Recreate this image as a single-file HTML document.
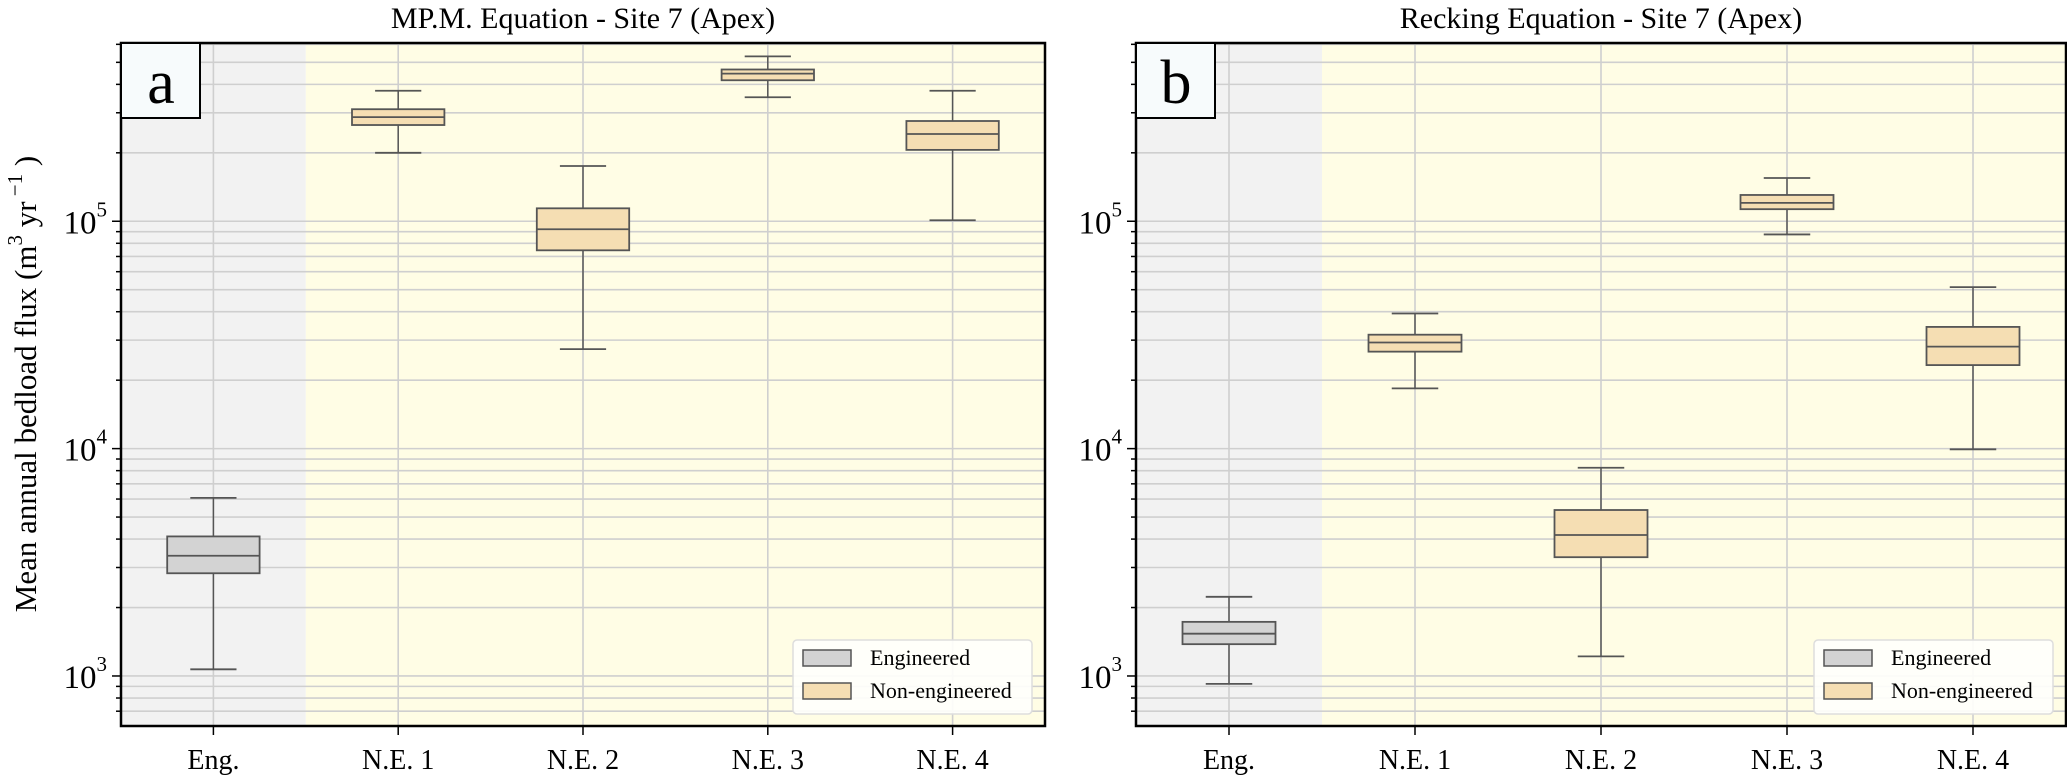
<!DOCTYPE html>
<html><head><meta charset="utf-8"><style>
html,body{margin:0;padding:0;background:#fff;width:2067px;height:777px;overflow:hidden}
svg{display:block;font-family:"Liberation Serif",serif}
</style></head><body>
<svg id="chart" width="2067" height="777" xmlns="http://www.w3.org/2000/svg"></svg>
<script>
const categories = ["Eng.","N.E. 1","N.E. 2","N.E. 3","N.E. 4"];
const panelTitles = ["MP.M. Equation - Site 7 (Apex)","Recking Equation - Site 7 (Apex)"];
const panelLetters = ["a","b"];
// [whiskerLow, Q1, median, Q3, whiskerHigh]
const mpmStats = [
  [1070, 2830, 3380, 4110, 6070],
  [200000, 265000, 287000, 311000, 375000],
  [27400, 74500, 92200, 114000, 175000],
  [351000, 417000, 446000, 465000, 531000],
  [101000, 206000, 242000, 276000, 375000]
];
const reckingStats = [
  [923, 1380, 1535, 1730, 2230],
  [18400, 26700, 29300, 31700, 39300],
  [1220, 3330, 4170, 5370, 8240],
  [87500, 113000, 120500, 130500, 155000],
  [9930, 23300, 28100, 34300, 51300]
];
const yTickLabels = ["3","4","5"];
const legendLabels = ["Engineered","Non-engineered"];

const NS="http://www.w3.org/2000/svg";
const svg=document.getElementById('chart');
function mk(tag,attrs,parent){const e=document.createElementNS(NS,tag);for(const k in attrs)e.setAttribute(k,attrs[k]);(parent||svg).appendChild(e);return e;}

const plotTop=43, plotBottom=726, logMin=2.78, logMax=5.784;
const panels=[{x0:121,x1:1045,stats:mpmStats},{x0:1136,x1:2066,stats:reckingStats}];
function yScale(v){const l=Math.log10(v);return plotBottom-(l-logMin)/(logMax-logMin)*(plotBottom-plotTop);}

panels.forEach((p,pi)=>{
  const g=mk('g',{});
  
  
  const w=p.x1-p.x0;
  const xc=i=>p.x0+(i+0.5)*w/5;
  const xd=d=>p.x0+(d-0.5)*w/5;
  const bgE=mk('rect',{x:p.x0,y:plotTop,width:xd(1.5)-p.x0,height:plotBottom-plotTop,fill:'#f2f2f2'},g);
  
  
  const bgN=mk('rect',{x:xd(1.5),y:plotTop,width:p.x1-xd(1.5),height:plotBottom-plotTop,fill:'#fffde5'},g);
  
  
  for(let k=2;k<=6;k++){for(let m=1;m<=9;m++){const v=m*Math.pow(10,k);const y=yScale(v);if(y<plotTop||y>plotBottom)continue;
    const gl=mk('line',{x1:p.x0,x2:p.x1,y1:y,y2:y,stroke:'#cfcfcf','stroke-width':1.6},g);
    
    
    const tk=mk('line',{x1:p.x0-(m===1?9:5),x2:p.x0,y1:y,y2:y,stroke:'#000','stroke-width':1.5},g);
    
    
  }}
  categories.forEach((c,i)=>{const x=xc(i);
    const vl=mk('line',{x1:x,x2:x,y1:plotTop,y2:plotBottom,stroke:'#cfcfcf','stroke-width':1.6},g);
    
    
    const tk=mk('line',{x1:x,x2:x,y1:plotBottom,y2:plotBottom+9,stroke:'#000','stroke-width':1.5},g);
    
    
    const t=mk('text',{x:x,y:769,'text-anchor':'middle','font-size':28,fill:'#000'},g);
    t.textContent=c;
    
    
  });
  yTickLabels.forEach(e=>{const y=yScale(Math.pow(10,+e));
    const t=mk('text',{x:p.x0-14,y:y+12,'text-anchor':'end','font-size':33,fill:'#000'},g);
    t.textContent='10';
    const s=mk('tspan',{'font-size':21,dy:-17},t);s.textContent=e;
    
    
  });
  const bw=w/5*0.5;
  p.stats.forEach((s,i)=>{const x=xc(i);
    const bg=mk('g',{},g);
    
    
    const fill=i===0?'#d3d3d3':'#f5deb3';
    mk('line',{x1:x,x2:x,y1:yScale(s[0]),y2:yScale(s[1]),stroke:'#555','stroke-width':1.5},bg);
    mk('line',{x1:x,x2:x,y1:yScale(s[3]),y2:yScale(s[4]),stroke:'#555','stroke-width':1.5},bg);
    mk('line',{x1:x-bw/4,x2:x+bw/4,y1:yScale(s[0]),y2:yScale(s[0]),stroke:'#555','stroke-width':1.8},bg);
    mk('line',{x1:x-bw/4,x2:x+bw/4,y1:yScale(s[4]),y2:yScale(s[4]),stroke:'#555','stroke-width':1.8},bg);
    mk('rect',{x:x-bw/2,y:yScale(s[3]),width:bw,height:yScale(s[1])-yScale(s[3]),fill:fill,stroke:'#555','stroke-width':1.8},bg);
    mk('line',{x1:x-bw/2,x2:x+bw/2,y1:yScale(s[2]),y2:yScale(s[2]),stroke:'#555','stroke-width':1.8},bg);
  });
  const fr=mk('rect',{x:p.x0,y:plotTop,width:w,height:plotBottom-plotTop,fill:'none',stroke:'#000','stroke-width':2.5},g);
  
  
  const lb=mk('g',{},g);
  
  
  mk('rect',{x:p.x0,y:plotTop,width:79,height:75,fill:'#f7fbfc',stroke:'#000','stroke-width':2},lb);
  const lt=mk('text',{x:p.x0+40,y:plotTop+60,'text-anchor':'middle','font-size':62,fill:'#000'},lb);
  lt.textContent=panelLetters[pi];
  const tt=mk('text',{x:(p.x0+p.x1)/2,y:28,'text-anchor':'middle','font-size':30,fill:'#000'},g);
  tt.textContent=panelTitles[pi];
  
  
  const lg=mk('g',{},g);
  
  
  const lx=p.x1-252;
  mk('rect',{x:lx,y:640,width:239,height:74,rx:4,fill:'#fffffc','fill-opacity':0.9,stroke:'#dddddd','stroke-width':1.5},lg);
  legendLabels.forEach((l,i)=>{
    const e=mk('g',{},lg);
    
    
    mk('rect',{x:lx+10,y:650+i*33,width:48,height:16,fill:i===0?'#d3d3d3':'#f5deb3',stroke:'#555','stroke-width':1.5},e);
    const t=mk('text',{x:lx+77,y:665+i*33,'font-size':22,fill:'#000'},e);
    t.textContent=l;
  });
});
const yt=mk('text',{transform:'translate(36,384) rotate(-90)','text-anchor':'middle','font-size':31,fill:'#000'});


yt.innerHTML='Mean annual bedload flux (m<tspan font-size="21" dy="-14">3</tspan><tspan dy="14"> yr</tspan><tspan font-size="21" dy="-14"> −1</tspan><tspan dy="14"> )</tspan>';
</script>
</body></html>
